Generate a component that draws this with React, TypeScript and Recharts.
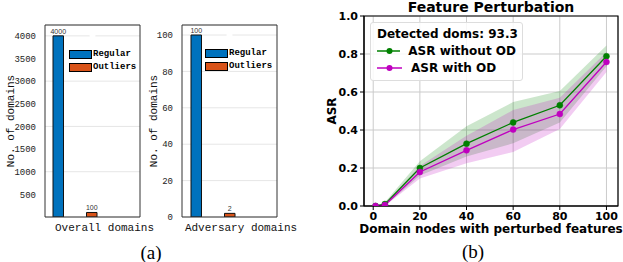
import React from 'react';
import {
  XAxis, YAxis, CartesianGrid, LabelList, ReferenceArea, Legend, Bar,
  ComposedChart, Area, Line,
} from 'recharts';

// ---------- Data (a) ----------
const barSeries = ['Regular', 'Outliers'];
const barColors = ['#0072BD', '#D95319'];
const overallCategory = ['Overall domains'];
const overallRegular = [4000];
const overallOutliers = [100];
const adversaryCategory = ['Adversary domains'];
const adversaryRegular = [100];
const adversaryOutliers = [2];
const overallTicks = [500, 1000, 1500, 2000, 2500, 3000, 3500, 4000];
const adversaryTicks = [0, 20, 40, 60, 80, 100];

// ---------- Data (b) ----------
const nodes = [1, 5, 20, 40, 60, 80, 100];
const asrWithout = [0, 0.01, 0.2, 0.328, 0.44, 0.53, 0.788];
const asrWith = [0, 0.005, 0.179, 0.293, 0.402, 0.484, 0.758];
const withoutLo = [0, 0, 0.16, 0.26, 0.33, 0.44, 0.735];
const withoutHi = [0, 0.02, 0.235, 0.42, 0.547, 0.605, 0.845];
const withLo = [0, 0, 0.145, 0.225, 0.284, 0.405, 0.705];
const withHi = [0, 0.015, 0.21, 0.37, 0.505, 0.57, 0.81];
const xTicksB = [0, 20, 40, 60, 80, 100];
const yTicksB = [0, 0.2, 0.4, 0.6, 0.8, 1.0];
const legendTitle = 'Detected doms: 93.3';
const lineNames = ['ASR without OD', 'ASR with OD'];
const lineColors = ['#008000', '#bf00bf'];

const MONO = '"Liberation Mono", "DejaVu Sans Mono", monospace';
const SANS = '"DejaVu Sans", sans-serif';

const BarLegend = (props: any) => {
  const payload = [...(props.payload || [])]
    .filter((a: any) => a.type !== 'none' && barSeries.indexOf(a.value) >= 0)
    .sort((a: any, b: any) => barSeries.indexOf(a.value) - barSeries.indexOf(b.value));
  return (
    <div style={{ display: 'flex', flexDirection: 'column', gap: 4 }}>
      {payload.map((p: any) => (
        <div key={p.value} style={{ display: 'flex', alignItems: 'center', height: 9 }}>
          <div style={{ width: 21, height: 7, background: p.color, border: '1px solid #000' }} />
          <span style={{ fontFamily: MONO, fontWeight: 'bold', fontSize: 9, marginLeft: 1, color: '#000', lineHeight: '9px' }}>{p.value}</span>
        </div>
      ))}
    </div>
  );
};

type BarPanelProps = {
  left: number; width: number; cats: string[]; reg: number[]; out: number[];
  ymax: number; ticks: number[]; yAxisWidth: number; marginRight: number;
  padRight: number; labelDx: number; ylabelOffset: number; legendLeft: number; legendTop: number;
};

const FRAME = '#333';

const BarPanel = (p: BarPanelProps) => {
  const data = p.cats.map((c, i) => ({ name: c, [barSeries[0]]: p.reg[i], [barSeries[1]]: p.out[i] }));
  return (
    <div style={{ position: 'absolute', left: p.left, top: 0, width: p.width, height: 262 }}>
      <ComposedChart width={p.width} height={262} data={data}
        margin={{ top: 24, right: p.marginRight - 1, bottom: 15, left: 0 }}
        barSize={10.5} barGap={23}>
        <CartesianGrid vertical={false} stroke="#e6e6e6" />
        <XAxis dataKey="name" tick={false} tickLine={false} axisLine={{ stroke: FRAME }} height={30}
          padding={{ left: 0, right: p.padRight }}
          label={{ value: p.cats[0], position: 'insideTop', offset: 6, dx: p.labelDx,
            style: { fontFamily: MONO, fontSize: 11, fill: '#111' } }} />
        <XAxis xAxisId="top" orientation="top" dataKey="name"
          tick={false} tickLine={false} axisLine={{ stroke: FRAME }} height={1} />
        <YAxis width={p.yAxisWidth} domain={[0, p.ymax]} ticks={p.ticks} allowDataOverflow
          axisLine={{ stroke: FRAME }} tickLine={false} tickMargin={3}
          tick={{ fontFamily: MONO, fontSize: 9, fill: '#222' }}
          label={{ value: 'No. of domains', angle: -90, position: 'insideLeft', offset: p.ylabelOffset,
            style: { textAnchor: 'middle', fontFamily: MONO, fontSize: 11, fill: '#111' } }} />
        <YAxis yAxisId="right" orientation="right" width={1} domain={[0, p.ymax]} allowDataOverflow
          tick={false} tickLine={false} axisLine={{ stroke: FRAME }} />
        <Legend layout="horizontal" verticalAlign="middle" align="center" content={<BarLegend />}
          wrapperStyle={{ position: 'absolute', left: p.legendLeft, top: p.legendTop, width: 'auto' }} />
        {barSeries.map((s, i) => (
          <Bar key={s} dataKey={s} fill={barColors[i]} stroke="#111" strokeWidth={1} isAnimationActive={false}>
            <LabelList dataKey={s} position="top" offset={2}
              style={{ fontFamily: '"Liberation Sans", Arial, sans-serif', fontSize: 7, fill: '#333' }} />
          </Bar>
        ))}
        <Line xAxisId="top" yAxisId="right" dataKey={barSeries[0]} stroke="none" dot={false} activeDot={false}
          legendType="none" isAnimationActive={false} />
      </ComposedChart>
    </div>
  );
};

const LineLegend = (props: any) => {
  const payload = (props.payload || []).filter((e: any) => e.type !== 'none' && lineNames.indexOf(e.value) >= 0)
    .sort((a: any, b: any) => lineNames.indexOf(a.value) - lineNames.indexOf(b.value));
  return (
    <div style={{ border: '1px solid #dddddd', borderRadius: 3, background: 'rgba(255,255,255,0.85)',
      padding: '3px 6px 4px 6px', fontFamily: SANS, fontWeight: 'bold', fontSize: 12, color: '#000',
      boxSizing: 'border-box', width: 153 }}>
      <div style={{ lineHeight: '16px', height: 16, whiteSpace: 'nowrap' }}>{legendTitle}</div>
      {payload.map((e: any) => (
        <div key={e.value} style={{ display: 'flex', alignItems: 'center', height: 17, whiteSpace: 'nowrap' }}>
          <svg width={26} height={10} style={{ marginRight: 8 }}>
            <line x1={0} y1={5} x2={25} y2={5} stroke={e.color} strokeWidth={1.5} />
            <circle cx={12.5} cy={5} r={3} fill={e.color} />
          </svg>
          <span>{e.value}</span>
        </div>
      ))}
    </div>
  );
};

const LinePanel = () => {
  const data = nodes.map((x, i) => ({
    x,
    without: asrWithout[i],
    withOD: asrWith[i],
    gBand: [withoutLo[i], withoutHi[i]],
    mBand: [withLo[i], withHi[i]],
  }));
  const tickStyle = { fontFamily: SANS, fontWeight: 'bold' as const, fontSize: 11, fill: '#000' };
  return (
    <div style={{ position: 'absolute', left: 300, top: 0, width: 323, height: 262 }}>
      <ComposedChart width={323} height={262} data={data}
        margin={{ top: 16, right: 5, bottom: 26, left: 24 }}>
        <CartesianGrid stroke="#cbcbcb" strokeWidth={1} />
        <XAxis dataKey="x" type="number" domain={[-3.95, 104.95]} ticks={xTicksB} allowDataOverflow
          height={30} tick={tickStyle} tickSize={4} tickMargin={2} tickLine={{ stroke: '#000' }}
          axisLine={{ stroke: '#000' }}
          label={{ value: 'Domain nodes with perturbed features', position: 'insideTop', offset: 18,
            style: { fontFamily: SANS, fontWeight: 'bold', fontSize: 12, fill: '#000' } }} />
        <YAxis type="number" domain={[0, 1]} ticks={yTicksB} allowDataOverflow width={40}
          tick={tickStyle} tickSize={4} tickMargin={2} tickLine={{ stroke: '#000' }} axisLine={{ stroke: '#000' }}
          tickFormatter={(v: number) => v.toFixed(1)}
          label={{ value: 'ASR', angle: -90, position: 'insideLeft', offset: 8,
            style: { textAnchor: 'middle', fontFamily: SANS, fontWeight: 'bold', fontSize: 12, fill: '#000' } }} />
        <Area dataKey="gBand" type="linear" stroke="none" fill={lineColors[0]} fillOpacity={0.2}
          legendType="none" isAnimationActive={false} dot={false} activeDot={false} />
        <Area dataKey="mBand" type="linear" stroke="none" fill={lineColors[1]} fillOpacity={0.2}
          legendType="none" isAnimationActive={false} dot={false} activeDot={false} />
        <Line dataKey="without" name={lineNames[0]} type="linear" stroke={lineColors[0]} strokeWidth={1.3}
          dot={{ r: 3, fill: lineColors[0], stroke: lineColors[0], strokeWidth: 0.5 }} isAnimationActive={false} />
        <Line dataKey="withOD" name={lineNames[1]} type="linear" stroke={lineColors[1]} strokeWidth={1.3}
          dot={{ r: 3, fill: lineColors[1], stroke: lineColors[1], strokeWidth: 0.5 }} isAnimationActive={false} />
        <ReferenceArea x1={-3.95} x2={104.95} y1={0} y2={1} fill="none" stroke="#000" strokeWidth={1.2}
          ifOverflow="visible" />
        <Legend layout="horizontal" verticalAlign="middle" align="center" content={<LineLegend />}
          wrapperStyle={{ position: 'absolute', left: 70, top: 22, width: 'auto' }} />
      </ComposedChart>
    </div>
  );
};

export default function App() {
  return (
    <div style={{ position: 'fixed', left: 0, top: 0, width: 623, height: 262, background: '#fff', overflow: 'hidden' }}>
      <BarPanel left={0} width={165} cats={overallCategory} reg={overallRegular} out={overallOutliers}
        ymax={4240} ticks={overallTicks} yAxisWidth={45} marginRight={25} padRight={35} labelDx={12}
        ylabelOffset={10} legendLeft={69} legendTop={50} />
      <BarPanel left={140} width={165} cats={adversaryCategory} reg={adversaryRegular} out={adversaryOutliers}
        ymax={105.5} ticks={adversaryTicks} yAxisWidth={42} marginRight={28} padRight={34} labelDx={11.5}
        ylabelOffset={13} legendLeft={65} legendTop={49} />
      <LinePanel />
      <div style={{ position: 'absolute', left: 391, top: -2, width: 200, textAlign: 'center',
        fontFamily: SANS, fontWeight: 'bold', fontSize: 14, lineHeight: '18px', color: '#000' }}>
        Feature Perturbation
      </div>
      <div style={{ position: 'absolute', left: 121, top: 243, width: 60, textAlign: 'center',
        fontFamily: '"Liberation Serif", serif', fontSize: 19, lineHeight: '19px', color: '#000' }}>(a)</div>
      <div style={{ position: 'absolute', left: 443, top: 242, width: 60, textAlign: 'center',
        fontFamily: '"Liberation Serif", serif', fontSize: 19, lineHeight: '19px', color: '#000' }}>(b)</div>
    </div>
  );
}
